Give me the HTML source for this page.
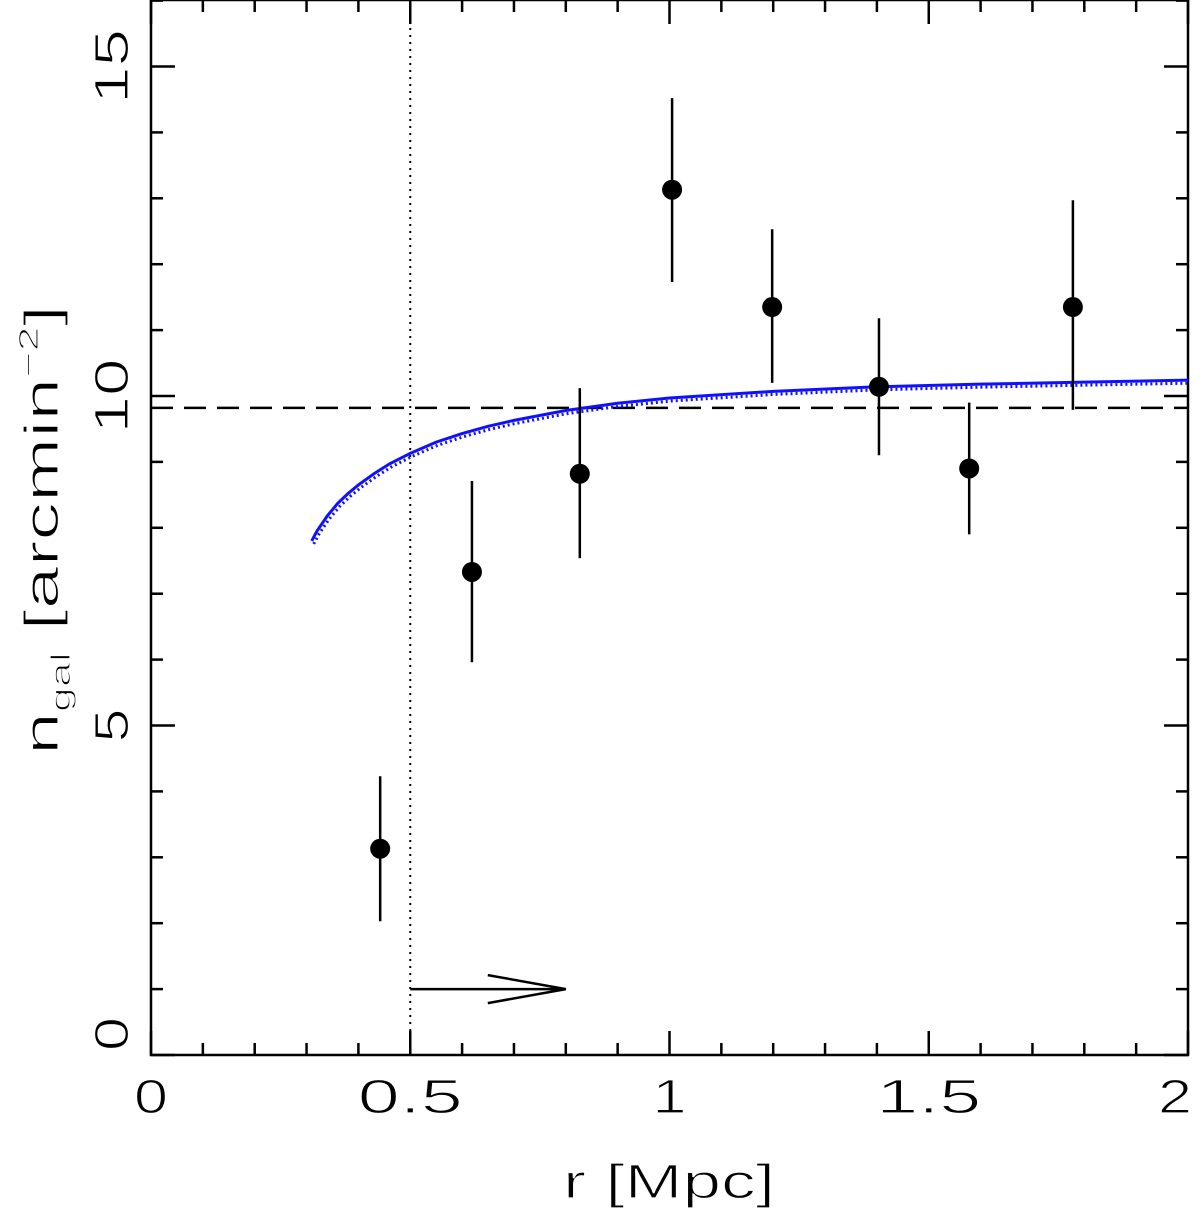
<!DOCTYPE html>
<html><head><meta charset="utf-8"><style>
body{margin:0;background:#fff}
svg{display:block;font-family:"Liberation Sans","DejaVu Sans",sans-serif}
.thin{stroke:#fff;stroke-width:1.2px}
</style></head><body>
<svg id="chart" width="1200" height="1211" viewBox="0 0 1200 1211" xmlns="http://www.w3.org/2000/svg">
<g id="axes"></g>
<g id="marks"></g>
<text class="thin" x="563" y="1198" font-size="48" textLength="212" lengthAdjust="spacingAndGlyphs">r  [Mpc]</text>
<text class="thin" transform="translate(58,755) rotate(-90)" font-size="48" textLength="450" lengthAdjust="spacingAndGlyphs">n<tspan font-size="28" dy="12">gal</tspan><tspan dy="-12"> [arcmin</tspan><tspan font-size="28" dy="-20">−2</tspan><tspan dy="20">]</tspan></text>
</svg>
<script>
const xTicks=[0,0.5,1,1.5,2];
const xTickLabels=["0","0.5","1","1.5","2"];
const yTicks=[0,5,10,15];
const yTickLabels=["0","5","10","15"];
const ptX=[0.442,0.619,0.827,1.005,1.198,1.404,1.578,1.778];
const ptY=[3.13,7.33,8.82,13.13,11.35,10.14,8.9,11.35];
const errLo=[2.03,5.96,7.54,11.73,10.2,9.1,7.9,9.79];
const errHi=[4.23,8.71,10.12,14.52,12.53,11.18,9.9,12.97];
const curveX=[0.31,0.32,0.34,0.36,0.38,0.4,0.43,0.46,0.5,0.55,0.6,0.65,0.7,0.8,0.9,1.0,1.2,1.4,1.6,1.8,2.0];
const curveY=[7.8,7.95,8.18,8.37,8.52,8.65,8.82,8.97,9.13,9.3,9.43,9.54,9.63,9.78,9.89,9.97,10.07,10.14,10.18,10.21,10.24];
const bgLevel=9.82;
const limitR=0.5, arrowEnd=0.8, arrowY=1;

const X=v=>151+v*518.5, Y=v=>1055-v*65.9;
const NS="http://www.w3.org/2000/svg";
function mk(p,tag,at){const e=document.createElementNS(NS,tag);for(const k in at)e.setAttribute(k,at[k]);p.appendChild(e);return e;}
const ax=document.getElementById('axes'), mg=document.getElementById('marks');
const frame=mk(ax,'rect',{x:151,y:0,width:1037,height:1055,fill:'none',stroke:'#000','stroke-width':2.5});


for(let i=0;i<=20;i++){const v=i/10,L=(i%5==0)?24:12;
 const t1=mk(ax,'line',{x1:X(v),x2:X(v),y1:1055,y2:1055-L,stroke:'#000','stroke-width':2.5});
 
 
 const t2=mk(ax,'line',{x1:X(v),x2:X(v),y1:0,y2:L,stroke:'#000','stroke-width':2.5});
 
 }
for(let i=0;i<=16;i++){const L=(i%5==0)?24:12;
 const t1=mk(ax,'line',{x1:151,x2:151+L,y1:Y(i),y2:Y(i),stroke:'#000','stroke-width':2.5});
 
 
 const t2=mk(ax,'line',{x1:1188,x2:1188-L,y1:Y(i),y2:Y(i),stroke:'#000','stroke-width':2.5});
 
 }
xTicks.forEach((v,i)=>{const s=xTickLabels[i];const w=s.length==1?34:105;
 let x0=X(v)-w/2; if(i==4)x0=1188-w+4;
 const t=mk(ax,'text',{x:x0,y:1113,'font-size':48,textLength:w,lengthAdjust:'spacingAndGlyphs','class':'thin'});t.textContent=s;
 
 });
yTicks.forEach((v,i)=>{const s=yTickLabels[i];const w=s.length==1?34:75;
 let y0=Y(v)+w/2; if(i==0)y0=Y(v)-4;
 const t=mk(ax,'text',{transform:`translate(128,${y0}) rotate(-90)`,'font-size':48,textLength:w,lengthAdjust:'spacingAndGlyphs','class':'thin'});t.textContent=s;
 
 });
const vl=mk(mg,'line',{x1:X(limitR),x2:X(limitR),y1:0,y2:1055,stroke:'#000','stroke-width':2,'stroke-dasharray':'2,5'});


const hl=mk(mg,'line',{x1:151,x2:1188,y1:Y(bgLevel),y2:Y(bgLevel),stroke:'#000','stroke-width':2.5,'stroke-dasharray':'22,11'});


const ar=mk(mg,'path',{d:`M${X(limitR)},${Y(arrowY)}H${X(arrowEnd)}M${X(arrowEnd)-78},${Y(arrowY)-14}L${X(arrowEnd)},${Y(arrowY)}L${X(arrowEnd)-78},${Y(arrowY)+14}`,fill:'none',stroke:'#000','stroke-width':2.5});


const pd=curveX.map((v,i)=>(i?'L':'M')+X(v)+','+Y(curveY[i])).join('');
const c1=mk(mg,'path',{d:pd,fill:'none',stroke:'#1010ff','stroke-width':3});


const c2=mk(mg,'path',{d:pd,fill:'none',stroke:'#1010ff','stroke-width':3,'stroke-dasharray':'2,3',transform:'translate(2,3)'});


ptX.forEach((v,i)=>{
 const e=mk(mg,'line',{x1:X(v),x2:X(v),y1:Y(errLo[i]),y2:Y(errHi[i]),stroke:'#000','stroke-width':2.5});
 
 
 const c=mk(mg,'circle',{cx:X(v),cy:Y(ptY[i]),r:10,fill:'#000'});
 
 });
</script>
</body></html>
